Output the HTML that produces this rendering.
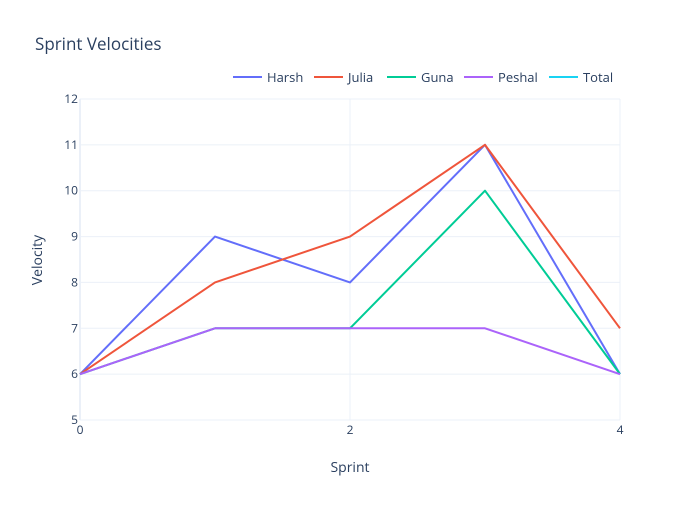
<!DOCTYPE html>
<html><head><meta charset="utf-8"><style>
body{margin:0;background:#fff;}
svg text{font-family:"Open Sans","Liberation Sans",sans-serif;}
</style></head><body>
<svg id="chart" width="700" height="500">
<rect width="700" height="500" fill="#fff"/>
<text x="35" y="50" font-size="17" fill="#2a3f5f">Sprint Velocities</text>
<g id="grid"></g>
<g id="series"></g>
<g id="ticks"></g>
<text x="350" y="472" font-size="14" fill="#2a3f5f" text-anchor="middle">Sprint</text>
<text x="42" y="260" font-size="14" fill="#2a3f5f" text-anchor="middle" transform="rotate(-90 42 260)">Velocity</text>
<g id="legend"></g>
</svg>
<script>
const sprints=[0,1,2,3,4];
const seriesNames=["Harsh","Julia","Guna","Peshal","Total"];
const harsh=[6,9,8,11,6];
const julia=[6,8,9,11,7];
const guna=[6,7,7,10,6];
const peshal=[6,7,7,7,6];
const total=[];
const xTicks=[0,2,4];
const yTicks=[5,6,7,8,9,10,11,12];
const colors=["#636efa","#EF553B","#00cc96","#ab63fa","#19d3f3"];
const allSeries=[harsh,julia,guna,peshal,total];
const ns="http://www.w3.org/2000/svg";
const X0=80,X1=620,Y0=420,Y1=99;
const xs=v=>X0+(v-0)/(4-0)*(X1-X0);
const ys=v=>Y0-(v-5)/(12-5)*(Y0-Y1);
function mk(tag,attrs,parent){const e=document.createElementNS(ns,tag);for(const k in attrs)e.setAttribute(k,attrs[k]);parent.appendChild(e);return e;}
const grid=document.getElementById('grid'),ticks=document.getElementById('ticks');
yTicks.forEach(t=>{
 const l=mk('line',{x1:X0,x2:X1,y1:ys(t),y2:ys(t),stroke:'#ebf0f8','stroke-width':1},grid);
 
 
 const tx=mk('text',{x:X0-2,y:ys(t)+4,'font-size':12,fill:'#2a3f5f','text-anchor':'end'},ticks);
 tx.textContent=t;
 
 
});
xTicks.forEach(t=>{
 const l=mk('line',{x1:xs(t),x2:xs(t),y1:Y1,y2:Y0,stroke:'#ebf0f8','stroke-width':t===0?2:1},grid);
 
 
 const tx=mk('text',{x:xs(t),y:Y0+14,'font-size':12,fill:'#2a3f5f','text-anchor':'middle'},ticks);
 tx.textContent=t;
 
 
});
const sg=document.getElementById('series');
allSeries.forEach((s,i)=>{
 if(!s.length)return;
 const p=mk('polyline',{points:s.map((v,j)=>xs(sprints[j])+','+ys(v)).join(' '),fill:'none',stroke:colors[i],'stroke-width':2,'stroke-linejoin':'round'},sg);
 
 
});
const lg=document.getElementById('legend');
const lx=[233,314,387,464,549];
seriesNames.forEach((n,i)=>{
 const g=mk('g',{},lg);
 
 
 mk('line',{x1:lx[i],x2:lx[i]+29,y1:77,y2:77,stroke:colors[i],'stroke-width':2},g);
 const t=mk('text',{x:lx[i]+34,y:82,'font-size':13,fill:'#2a3f5f'},g);
 t.textContent=n;
});
</script>
</body></html>
